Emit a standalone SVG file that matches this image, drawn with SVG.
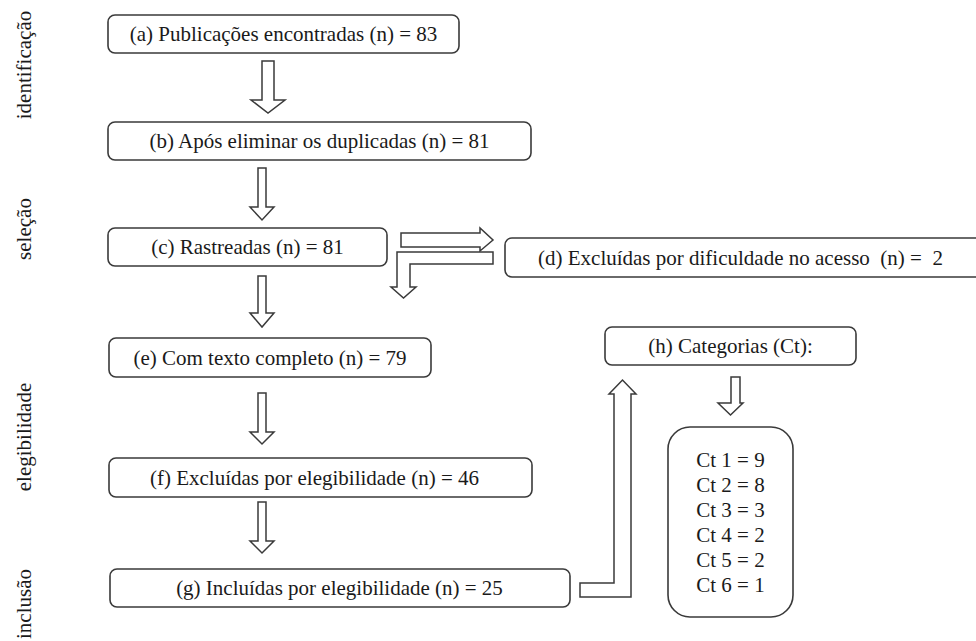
<svg xmlns="http://www.w3.org/2000/svg" width="976" height="641" viewBox="0 0 976 641">
<style>
.box{fill:#fff;stroke:#3a3a3a;stroke-width:1.6}
.arr{fill:#fff;stroke:#3a3a3a;stroke-width:1.5;stroke-linejoin:miter}
.c{text-anchor:middle}
</style>
<rect width="976" height="641" fill="#fff"/>
<g font-family="Liberation Serif, Times New Roman, serif" font-size="21" fill="#1a1a1a">
<g id="stages">
<text class="c" transform="translate(31,65) rotate(-90)">identificação</text>
<text class="c" transform="translate(31,229) rotate(-90)">seleção</text>
<text class="c" transform="translate(31,437) rotate(-90)">elegibilidade</text>
<text class="c" transform="translate(31,604) rotate(-90)">inclusão</text>
</g>
<g id="connectors">
<polygon class="arr" points="262,61 274,61 274,100 285,100 268,113 251,100 262,100"/>
<polygon class="arr" points="258,168 266,168 266,207 274,207 262,220 250,207 258,207"/>
<polygon class="arr" points="258,276 266,276 266,313 274,313 262,327 250,313 258,313"/>
<polygon class="arr" points="258,393 266,393 266,432 274,432 262,444 250,432 258,432"/>
<polygon class="arr" points="258,502 266,502 266,541 274,541 262,553 250,541 258,541"/>
<polygon class="arr" points="401,233 480,233 480,228 493,240 480,251 480,247 401,247"/>
<polygon class="arr" points="493,252 397,252 397,287 391,287 403.5,298 416,287 410,287 410,264 493,264"/>
<polygon class="arr" points="580,583 614,583 614,394 609,394 622.5,380 636,394 631,394 631,597 580,597"/>
<polygon class="arr" points="731,377 740,377 740,403 743,403 730.5,415 718,403 731,403"/>
</g>
<g id="node-a"><rect class="box" x="108" y="15" width="351" height="38" rx="7"/><text class="c" x="283.5" y="41">(a) Publicações encontradas (n) = 83</text></g>
<g id="node-b"><rect class="box" x="108" y="122" width="423" height="38" rx="7"/><text class="c" x="319.5" y="148">(b) Após eliminar os duplicadas (n) = 81</text></g>
<g id="node-c"><rect class="box" x="108" y="228" width="279" height="38" rx="7"/><text class="c" x="247.5" y="254">(c) Rastreadas (n) = 81</text></g>
<g id="node-d"><rect class="box" x="505" y="238" width="485" height="39" rx="7"/><text x="538" y="265" xml:space="preserve">(d) Excluídas por dificuldade no acesso  (n) =  2</text></g>
<g id="node-e"><rect class="box" x="109" y="338" width="322" height="39" rx="7"/><text class="c" x="270" y="365">(e) Com texto completo (n) = 79</text></g>
<g id="node-f"><rect class="box" x="109" y="458" width="423" height="39" rx="7"/><text class="c" x="314.5" y="485">(f) Excluídas por elegibilidade (n) = 46</text></g>
<g id="node-g"><rect class="box" x="110" y="569" width="460" height="38" rx="7"/><text class="c" x="339.5" y="595">(g) Incluídas por elegibilidade (n) = 25</text></g>
<g id="node-h"><rect class="box" x="605" y="327" width="251" height="38" rx="7"/><text class="c" x="730.5" y="353">(h) Categorias (Ct):</text></g>
<g id="node-categories"><rect class="box" x="668" y="427" width="125" height="190" rx="22"/>
<text class="c" x="730.5" y="467">Ct 1 = 9</text>
<text class="c" x="730.5" y="492">Ct 2 = 8</text>
<text class="c" x="730.5" y="517">Ct 3 = 3</text>
<text class="c" x="730.5" y="542">Ct 4 = 2</text>
<text class="c" x="730.5" y="567">Ct 5 = 2</text>
<text class="c" x="730.5" y="592">Ct 6 = 1</text>
</g>
</g>
</svg>
